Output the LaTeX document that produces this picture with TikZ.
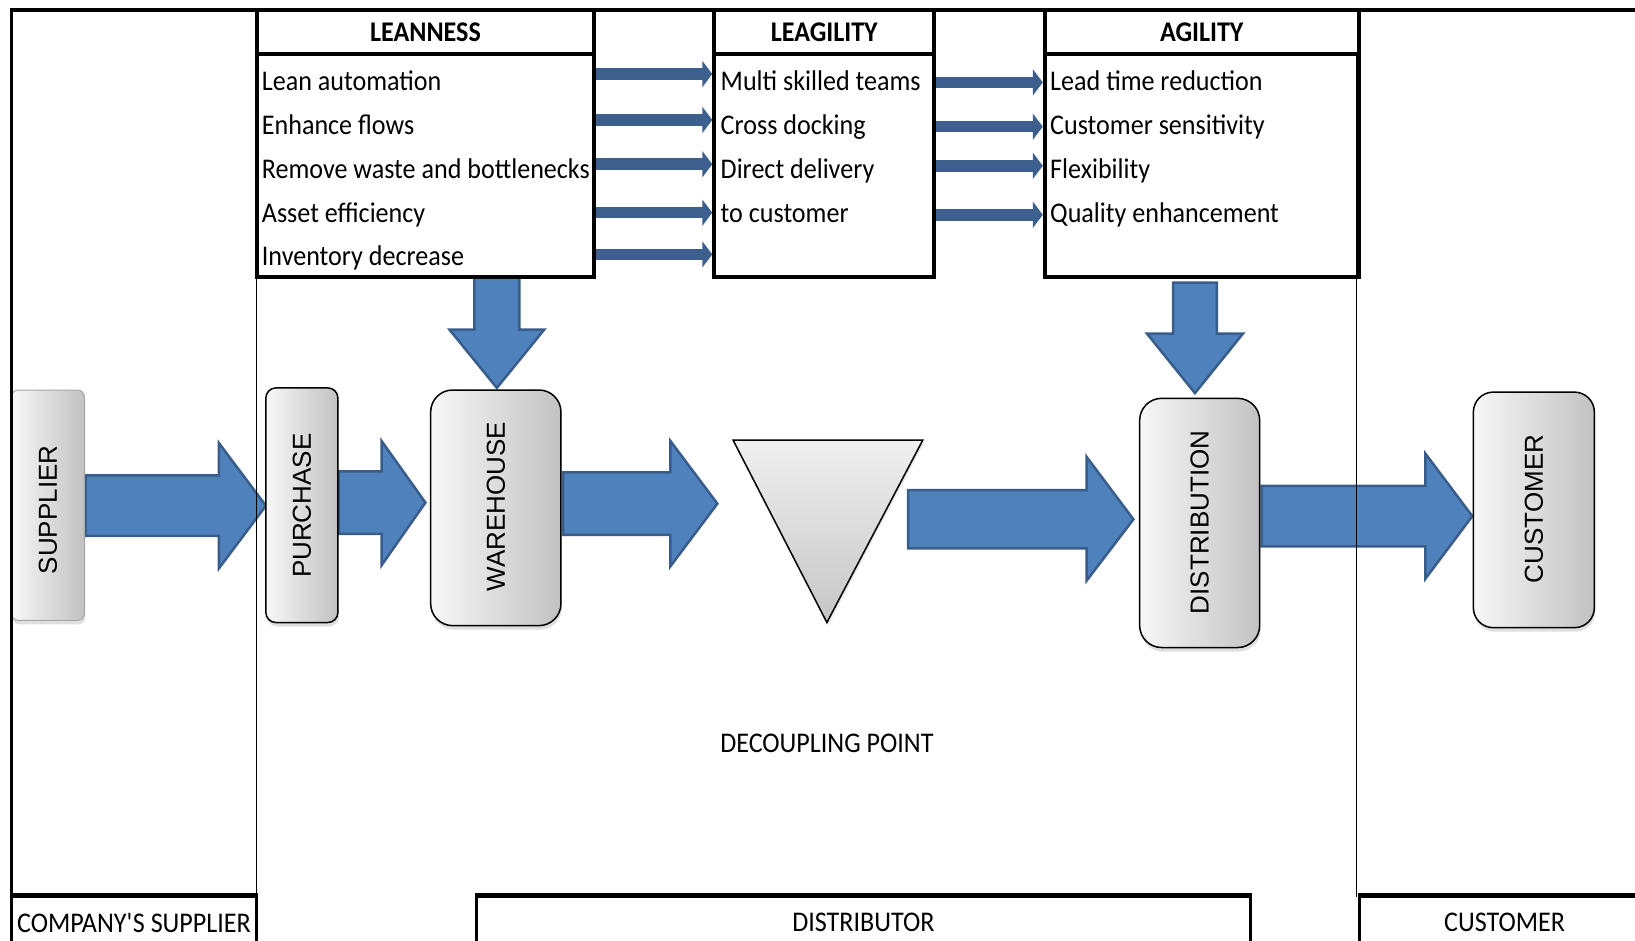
\documentclass[tikz,border=0pt]{standalone}
\usepackage{fontspec}
\setmainfont{Carlito}[FakeStretch=0.915]
\newfontfamily\boxfont{Liberation Sans}
\usepackage{tikz}
\usetikzlibrary{arrows.meta, shadows, calc}
\definecolor{flowblue}{RGB}{79, 129, 189}
\definecolor{flowedge}{RGB}{56, 93, 138}
\definecolor{linkblue}{RGB}{60, 95, 142}

\begin{document}
\begin{tikzpicture}[x=1.0427pt, y=-1.0427pt,
  every node/.style={font=\fontsize{28.5}{34}\selectfont, inner sep=0pt},
  headbox/.style={draw, line width=4pt, minimum height=43.8pt, font=\fontsize{28.5}{34}\selectfont\bfseries},
  listbox/.style={draw, line width=4pt, minimum height=223.1pt},
  item/.style={anchor=base west},
  procbox/.style={draw=black, line width=1.5pt, rounded corners=#1, left color=gray!6, right color=gray!48,
    drop shadow={shadow xshift=1pt, shadow yshift=-4pt, opacity=0.25}},
  proclabel/.style={rotate=90, font=\boxfont\fontsize{26}{30}\selectfont},
  bigarrow/.style={fill=flowblue, draw=flowedge, line width=2.5pt},
  link/.style={draw=linkblue, line width=11.5pt, -{Triangle[length=10pt, width=26pt]}},
  btmbox/.style={draw, line width=2.5pt, minimum height=52.1pt}
]
\useasboundingbox (0,0) rectangle (1568,902);
% Flow arrows
\draw[bigarrow] (82,456) -- (210,456) -- (210,425) -- (255,485) -- (210,545) -- (210,514) -- (82,514) -- cycle;
\draw[bigarrow] (325,452) -- (366,452) -- (366,423) -- (408,482) -- (366,542) -- (366,512) -- (325,512) -- cycle;
\draw[bigarrow] (540,453) -- (643,453) -- (643,423) -- (688,483) -- (643,543) -- (643,513) -- (540,513) -- cycle;
\draw[bigarrow] (871,470) -- (1042,470) -- (1042,438) -- (1087,498) -- (1042,557) -- (1042,526) -- (871,526) -- cycle;
\draw[bigarrow] (1210,466) -- (1367,466) -- (1367,435) -- (1412,495) -- (1367,555) -- (1367,524) -- (1210,524) -- cycle;
\draw[bigarrow] (455,266) -- (498,266) -- (498,316) -- (522,316) -- (476.5,372) -- (431,316) -- (455,316) -- cycle;
\draw[bigarrow] (1125,271) -- (1167,271) -- (1167,320) -- (1192,320) -- (1146,377) -- (1100,320) -- (1125,320) -- cycle;
% Process boxes
\node[procbox=7pt, draw=gray!70, line width=1pt, minimum width=73pt, minimum height=230.4pt] (sup) at (46,484.5) {};
\node[proclabel] (suptext) at (46,489) {SUPPLIER};
\node[procbox=10pt, minimum width=72pt, minimum height=234.6pt] (pur) at (289.5,484.5) {};
\node[proclabel] (purtext) at (289.5,485) {PURCHASE};
\node[procbox=22pt, minimum width=130.3pt, minimum height=235.6pt] (war) at (475.5,487) {};
\node[proclabel] (wartext) at (475.5,486) {WAREHOUSE};
\node[procbox=22pt, minimum width=120pt, minimum height=249.2pt] (dis) at (1150.5,501.5) {};
\node[proclabel] (distext) at (1150.5,501) {DISTRIBUTION};
\node[procbox=20pt, minimum width=121pt, minimum height=235.6pt] (cus) at (1471,489) {};
\node[proclabel] (custext) at (1471,488) {CUSTOMER};
% Decoupling point
\coordinate (dpleft) at (703,422);
\coordinate (dpright) at (885,422);
\coordinate (dpbottom) at (793,597);
\draw[line width=1.5pt, top color=gray!12, bottom color=gray!45,
  drop shadow={shadow xshift=1pt, shadow yshift=-3pt, opacity=0.2}] (dpleft) -- (dpright) -- (dpbottom) -- cycle;
\node (dptext) at (793,713) {DECOUPLING POINT};
% Strategy boxes
\node[headbox, minimum width=337.8pt] (leanhead) at (408,31) {LEANNESS};
\node[listbox, minimum width=337.8pt] (leanbody) at (408,159) {};
\node[headbox, minimum width=220pt] (leaghead) at (790.5,31) {LEAGILITY};
\node[listbox, minimum width=220pt] (leagbody) at (790.5,159) {};
\node[headbox, minimum width=313.9pt] (agilhead) at (1152.5,31) {AGILITY};
\node[listbox, minimum width=313.9pt] (agilbody) at (1152.5,159) {};
% Items
\node[item] (lean1) at (251,87) {Lean automation};
\node[item] (lean2) at (251,129) {Enhance flows};
\node[item] (lean3) at (251,171) {Remove waste and bottlenecks};
\node[item] (lean4) at (251,213) {Asset efficiency};
\node[item] (lean5) at (251,255) {Inventory decrease};
\node[item] (leag1) at (691,87) {Multi skilled teams};
\node[item] (leag2) at (691,129) {Cross docking};
\node[item] (leag3) at (691,171) {Direct delivery};
\node[item] (leag4) at (691,213) {to customer};
\node[item] (agil1) at (1007,87) {Lead time reduction};
\node[item] (agil2) at (1007,129) {Customer sensitivity};
\node[item] (agil3) at (1007,171) {Flexibility};
\node[item] (agil4) at (1007,213) {Quality enhancement};
% Links
\draw[link] (leanbody.east |- 0,71) -- (leagbody.west |- 0,71);
\draw[link] (leanbody.east |- 0,115) -- (leagbody.west |- 0,115);
\draw[link] (leanbody.east |- 0,157.5) -- (leagbody.west |- 0,157.5);
\draw[link] (leanbody.east |- 0,204) -- (leagbody.west |- 0,204);
\draw[link] (leanbody.east |- 0,244) -- (leagbody.west |- 0,244);
\draw[link] (leagbody.east |- 0,79) -- (agilbody.west |- 0,79);
\draw[link] (leagbody.east |- 0,121.5) -- (agilbody.west |- 0,121.5);
\draw[link] (leagbody.east |- 0,159) -- (agilbody.west |- 0,159);
\draw[link] (leagbody.east |- 0,206) -- (agilbody.west |- 0,206);
% Frame
\draw[line width=4pt] (9.5,10) -- (1568,10);
\draw[line width=3pt] (11,10) -- (11,902);
\draw[line width=1.2pt] (246,10) -- (246,860);
\draw[line width=1.2pt] (1301,52) -- (1301,860);
% Stages
\node[btmbox, minimum width=245pt] (compsup) at (128.5,885) {COMPANY\textquotesingle S SUPPLIER};
\node[btmbox, minimum width=773.7pt] (distr) at (828,885) {DISTRIBUTOR};
\node[btmbox, minimum width=289.9pt] (custm) at (1443,885) {CUSTOMER};
\draw[line width=5pt] (compsup.north west) -- (compsup.north east);
\draw[line width=5pt] (distr.north west) -- (distr.north east);
\draw[line width=5pt] (custm.north west) -- (custm.north east);
\end{tikzpicture}
\end{document}
